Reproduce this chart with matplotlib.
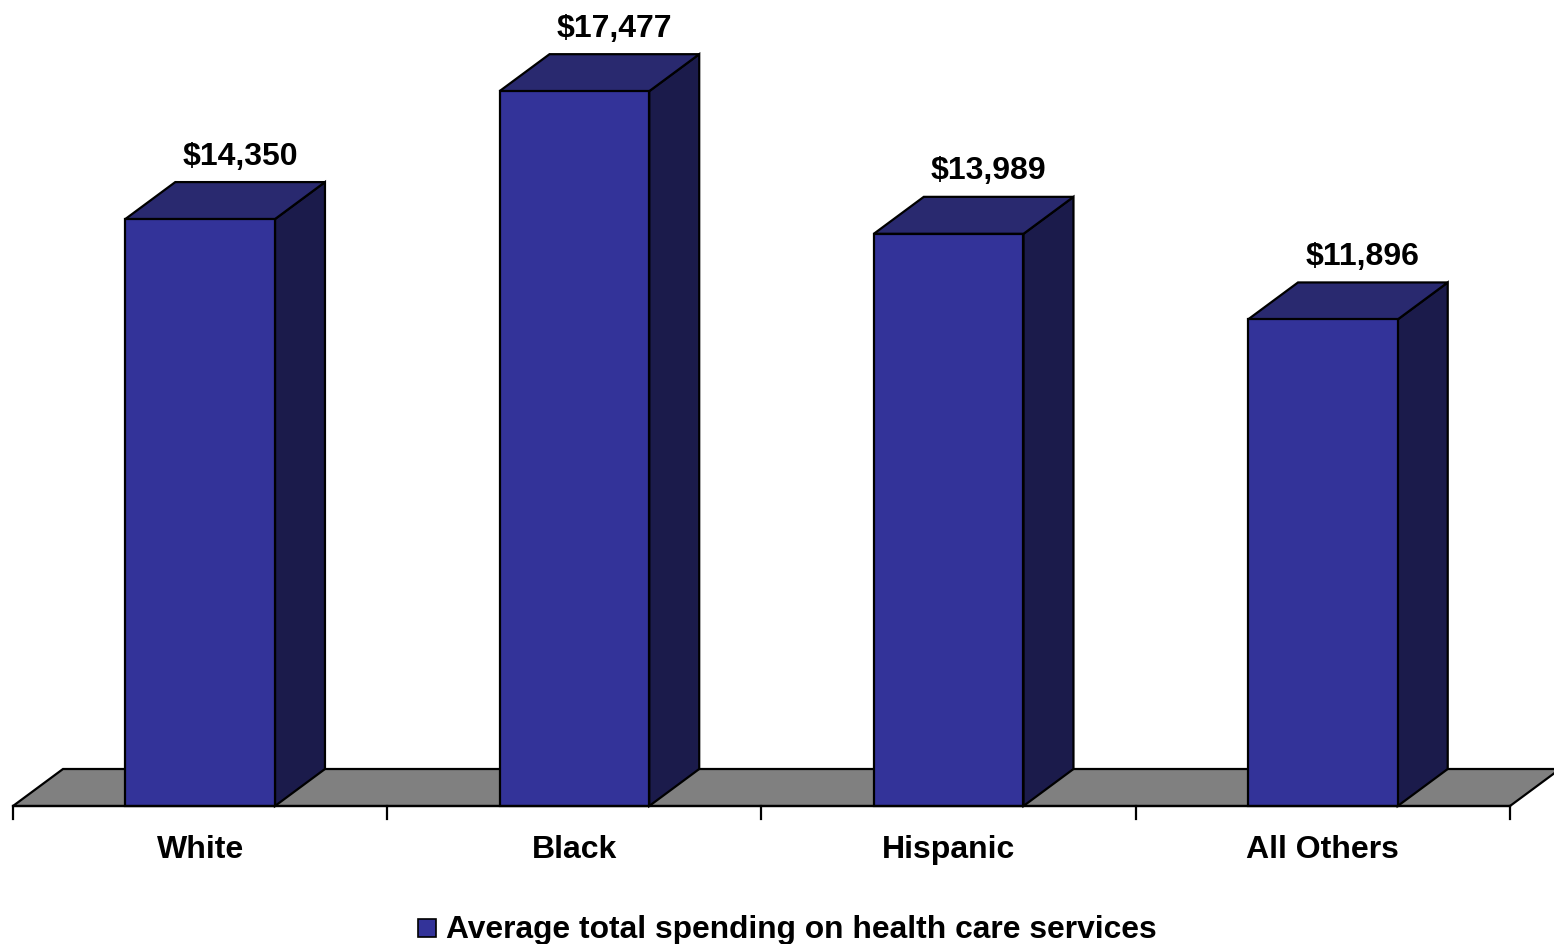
import matplotlib
matplotlib.use("Agg")
import matplotlib.pyplot as plt
from matplotlib.patches import Polygon, Rectangle

plt.rcParams['font.family'] = ['Liberation Sans', 'DejaVu Sans']

categories = ['White', 'Black', 'Hispanic', 'All Others']
spending = [14350, 17477, 13989, 11896]
value_labels = ['$14,350', '$17,477', '$13,989', '$11,896']
legend_label = 'Average total spending on health care services'

front_color = '#333399'
top_color = '#29296f'
side_color = '#1b1b4b'
floor_color = '#808080'

fig = plt.figure(figsize=(15.54, 9.45), dpi=100)
ax = fig.add_axes([13 / 1554, 138 / 945, 1497 / 1554, 805 / 945])
ymax = 19682
ax.set_xlim(0, len(categories))
ax.set_ylim(0, ymax)
ax.axis('off')

# depth offsets (data units)
dx = 50 / 374.25
dy = 37 / 805 * ymax
bw = 0.4

# floor
ax.add_patch(Polygon([(0, 0), (4, 0), (4 + dx, dy), (dx, dy)], closed=True,
                     facecolor=floor_color, edgecolor='black', lw=1.6, clip_on=False))

for i, (v, lab) in enumerate(zip(spending, value_labels)):
    c = i + 0.5
    x0, x1 = c - bw / 2, c + bw / 2
    ax.add_patch(Polygon([(x1, 0), (x1 + dx, dy), (x1 + dx, v + dy), (x1, v)], closed=True,
                         facecolor=side_color, edgecolor='black', lw=1.6, clip_on=False))
    ax.add_patch(Polygon([(x0, v), (x1, v), (x1 + dx, v + dy), (x0 + dx, v + dy)], closed=True,
                         facecolor=top_color, edgecolor='black', lw=1.6, clip_on=False))
    ax.add_patch(Rectangle((x0, 0), bw, v, facecolor=front_color, edgecolor='black',
                           lw=1.6, clip_on=False))
    ax.text(c + 0.107, v + dy + 280, lab, ha='center', va='bottom',
            fontsize=23, fontweight='bold', clip_on=False)

# axis line, ticks and category labels
ax.plot([0, 4], [0, 0], color='black', lw=1.6, clip_on=False)
tick_len = 13 / 805 * ymax
for t in range(5):
    ax.plot([t, t], [0, -tick_len], color='black', lw=1.6, clip_on=False)
for i, cat in enumerate(categories):
    ax.text(i + 0.5, -43 / 805 * ymax, cat, ha='center', va='center',
            fontsize=23, fontweight='bold')

# legend
fig.patches.append(Rectangle((418 / 1554, (945 - 938) / 945), 18 / 1554, 18 / 945,
                             transform=fig.transFigure, facecolor=front_color,
                             edgecolor='black', lw=1.2))
fig.text(446 / 1554, (945 - 930) / 945, legend_label, ha='left', va='center',
         fontsize=22.9, fontweight='bold')

fig.savefig('out.png', dpi=100)
